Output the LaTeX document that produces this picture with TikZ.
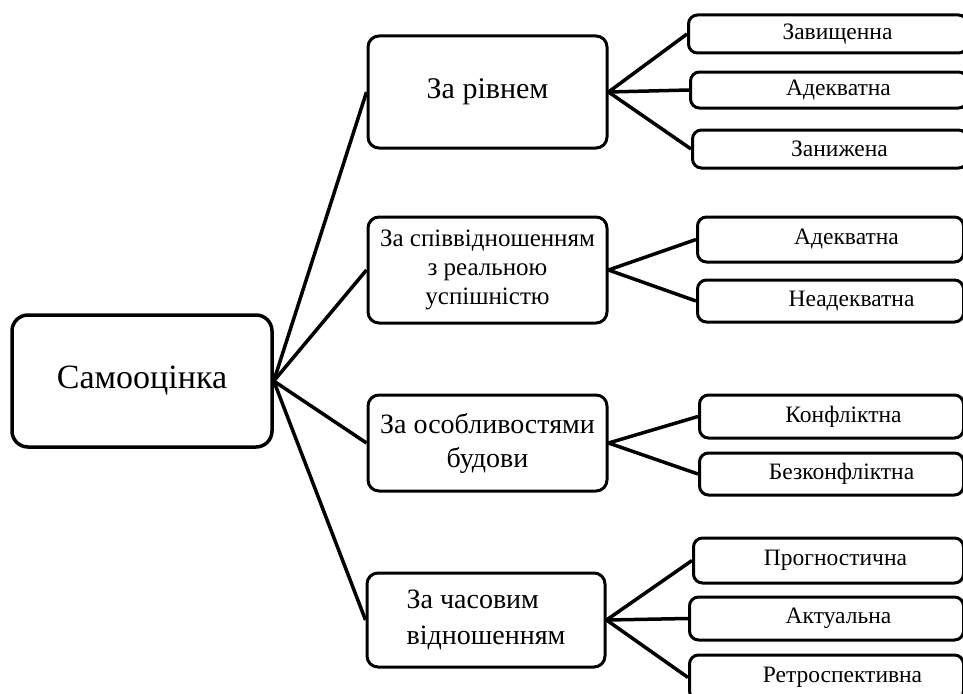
\documentclass[tikz,border=0pt]{standalone}
\usepackage{fontspec}
\setmainfont{Liberation Serif}
\begin{document}
\begin{tikzpicture}[x=1pt,y=-1pt,
  rootbox/.style={draw, line width=3.5pt, rounded corners=16pt, align=center, inner sep=0pt,
    minimum width=260pt, minimum height=132pt, font=\fontsize{34}{40}\selectfont},
  catbox/.style={draw, line width=3pt, rounded corners=11pt, inner sep=0pt,
    minimum width=239pt},
  leafbox/.style={draw, line width=3pt, rounded corners=9pt, inner sep=0pt, anchor=west,
    font=\fontsize{23.5}{26}\selectfont},
  link/.style={line width=3.5pt}]
\useasboundingbox (0,0) rectangle (963,693);

\node[rootbox] (root) at (142,381) {Самооцінка};

\node[catbox, minimum height=112pt, align=center, font=\fontsize{30}{34}\selectfont] (c1) at (487.5,92) {За рівнем};
\node[catbox, minimum height=106pt, align=center, font=\fontsize{25}{29}\selectfont] (c2) at (487.5,270) {За співвідношенням\\з реальною\\успішністю};
\node[catbox, minimum height=96pt, align=center, font=\fontsize{28}{34}\selectfont] (c3) at (487.5,443) {За особливостями\\будови};
\node[catbox, minimum width=238pt, minimum height=94pt, align=left, font=\fontsize{28}{36}\selectfont] (c4) at (486,620) {За часовим\\відношенням};

\node[leafbox, minimum width=279pt, minimum height=38pt] (l1) at (687,34) {\hspace*{19pt}Завищенна};
\node[leafbox, minimum width=277pt, minimum height=36pt] (l2) at (689,90) {\hspace*{19pt}Адекватна};
\node[leafbox, minimum width=275pt, minimum height=38pt] (l3) at (691,149) {\hspace*{19pt}Занижена};

\node[leafbox, minimum width=266pt, minimum height=45pt] (l4) at (696,239.5) {\hspace*{32pt}Адекватна};
\node[leafbox, minimum width=266pt, minimum height=42pt] (l5) at (696,301) {\hspace*{42pt}Неадекватна};

\node[leafbox, minimum width=264pt, minimum height=43pt] (l6) at (698,416.5) {\hspace*{24pt}Конфліктна};
\node[leafbox, minimum width=264pt, minimum height=42pt] (l7) at (698,474) {\hspace*{20pt}Безконфліктна};

\node[leafbox, minimum width=270pt, minimum height=45pt] (l8) at (692,560.5) {\hspace*{14pt}Прогностична};
\node[leafbox, minimum width=274pt, minimum height=43pt] (l9) at (688,618.5) {\hspace*{24pt}Актуальна};
\node[leafbox, minimum width=274pt, minimum height=45pt] (l10) at (688,677.5) {\hspace*{32pt}Ретроспективна};

\foreach \c in {c1,c2,c3,c4} \draw[link] (root.east) -- (\c.west);
\foreach \l in {l1,l2,l3} \draw[link] (c1.east) -- (\l.west);
\foreach \l in {l4,l5} \draw[link] (c2.east) -- (\l.west);
\foreach \l in {l6,l7} \draw[link] (c3.east) -- (\l.west);
\foreach \l in {l8,l9,l10} \draw[link] (c4.east) -- (\l.west);
\end{tikzpicture}
\end{document}
